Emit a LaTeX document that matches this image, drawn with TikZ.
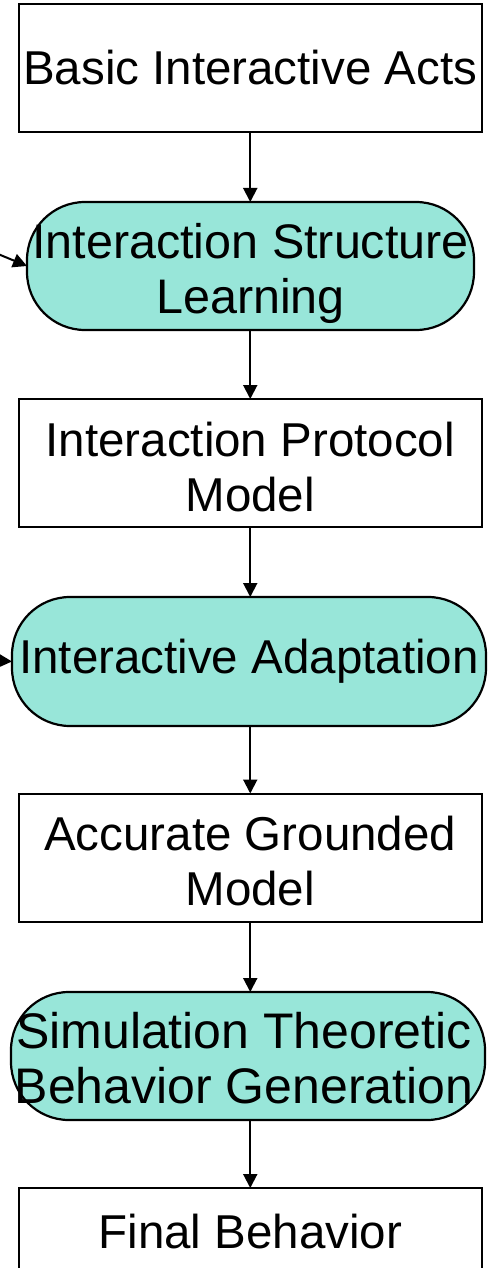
\documentclass[tikz,border=0pt]{standalone}
\usepackage{fontspec}
\setmainfont{Liberation Sans}
\usetikzlibrary{arrows.meta}
\definecolor{aqua}{RGB}{152,230,217}
\begin{document}
\begin{tikzpicture}[x=1pt,y=-1pt,
  every node/.style={inner sep=0pt,outer sep=0pt,align=center,font=\fontsize{47.5}{55}\selectfont},
  boxnode/.style={draw,line width=2pt,fill=white,minimum width=463.5pt,minimum height=128pt},
  pill/.style={draw,line width=2.2pt,fill=aqua,rounded corners=58pt,minimum height=128pt},
  arr/.style={line width=2pt,-{Triangle[length=14pt,width=14pt]}}]
\useasboundingbox[fill=white] (0,0) rectangle (487,1268);
\node[boxnode] (b1) at (250.25,68) {Basic Interactive Acts};
\node[pill,minimum width=447pt] (s1) at (250.5,266) {};
\node[font=\fontsize{48.5}{55}\selectfont] (t1) at (250.5,273) {Interaction Structure\\Learning};
\node[boxnode] (b2) at (250.25,463) {};
\node (t2) at (250.25,467) {Interaction Protocol\\Model};
\node[pill,minimum width=474pt,minimum height=129pt] (s2) at (249,661.5) {Interactive Adaptation};
\node[boxnode] (b3) at (250.25,857.5) {};
\node (t3) at (250.25,861) {Accurate Grounded\\Model};
\node[pill,minimum width=474pt] (s3) at (248,1056) {};
\node[font=\fontsize{50}{55}\selectfont] (t5) at (244,1058) {Simulation Theoretic\\Behavior Generation};
\node[boxnode,anchor=north] (b4) at (250.25,1188) {};
\node (t4) at (250.25,1232) {Final Behavior};
\coordinate (l1) at (-2,254);
\coordinate (l2) at (-12,660);
\draw[arr] (b1.south) -- (b1.south |- s1.north);
\draw[arr] (s1.south -| b1.south) -- (b1.south |- b2.north);
\draw[arr] (b2.south) -- (b2.south |- s2.north);
\draw[arr] (s2.south -| b2.south) -- (b3.north);
\draw[arr] (b3.south) -- (b3.south |- s3.north);
\draw[arr] (s3.south -| b3.south) -- (b4.north);
\draw[arr] (l1) -- (s1.west);
\draw[arr] (l2) -- (s2.west);
\end{tikzpicture}
\end{document}
